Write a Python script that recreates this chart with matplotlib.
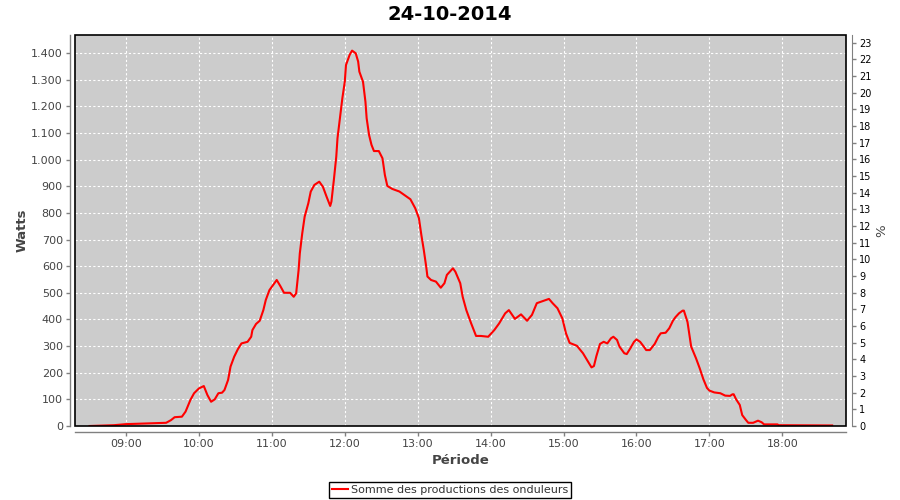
import matplotlib
matplotlib.use("Agg")
import matplotlib.pyplot as plt
from matplotlib.patches import Rectangle

# Production readings for 24-10-2014 (time of day, watts)
times = [
    "08:30", "08:50", "09:00", "09:20", "09:33", "09:37", "09:40", "09:46", "09:49", "09:53",
    "09:56", "10:00", "10:04", "10:07", "10:10", "10:13", "10:16", "10:19", "10:21", "10:24",
    "10:26", "10:29", "10:32", "10:35", "10:40", "10:43", "10:44", "10:47", "10:50", "10:53",
    "10:55", "10:58", "11:04", "11:07", "11:10", "11:15", "11:18", "11:20", "11:22", "11:23",
    "11:25", "11:27", "11:30", "11:32", "11:35", "11:39", "11:42", "11:45", "11:48", "11:49",
    "11:51", "11:53", "11:54", "11:56", "11:58", "12:00", "12:01", "12:04", "12:06", "12:09",
    "12:11", "12:12", "12:15", "12:17", "12:18", "12:20", "12:22", "12:24", "12:28", "12:31",
    "12:33", "12:35", "12:39", "12:45", "12:49", "12:54", "12:58", "13:01", "13:03", "13:05",
    "13:07", "13:08", "13:11", "13:15", "13:19", "13:22", "13:24", "13:29", "13:31", "13:35",
    "13:37", "13:40", "13:44", "13:48", "13:52", "13:58", "14:03", "14:07", "14:12", "14:15",
    "14:20", "14:25", "14:30", "14:34", "14:38", "14:43", "14:48", "14:51", "14:55", "14:59",
    "15:02", "15:05", "15:11", "15:16", "15:21", "15:23", "15:25", "15:27", "15:30", "15:33",
    "15:36", "15:39", "15:41", "15:44", "15:46", "15:50", "15:52", "15:55", "15:58", "16:00",
    "16:03", "16:06", "16:08", "16:11", "16:15", "16:18", "16:20", "16:24", "16:27", "16:30",
    "16:32", "16:35", "16:38", "16:39", "16:42", "16:43", "16:45", "16:49", "16:52", "16:55",
    "16:58", "17:00", "17:04", "17:09", "17:13", "17:17", "17:19", "17:20", "17:22", "17:25",
    "17:27", "17:30", "17:32", "17:36", "17:40", "17:43", "17:45", "17:56", "17:57", "18:41",
]
watts = [
    0, 3, 7, 10, 12, 22, 33, 35, 54, 98,
    123, 141, 150, 116, 91, 100, 123, 125, 135, 173,
    223, 260, 288, 310, 316, 335, 360, 383, 395, 435,
    473, 510, 548, 525, 500, 500, 485, 498, 585, 648,
    723, 786, 836, 880, 905, 917, 898, 861, 826, 842,
    923, 1011, 1080, 1155, 1230, 1292, 1355, 1393, 1409, 1399,
    1368, 1330, 1292, 1217, 1155, 1092, 1055, 1032, 1032, 1005,
    942, 901, 890, 880, 867, 851, 817, 780, 717, 661,
    598, 561, 548, 542, 519, 536, 567, 592, 579, 536,
    485, 435, 385, 338, 338, 335, 360, 385, 423, 435,
    402, 419, 395, 417, 461, 469, 477, 461, 442, 404,
    348, 312, 301, 273, 235, 220, 225, 262, 308, 316,
    310, 329, 335, 323, 298, 273, 270, 292, 316, 325,
    316, 298, 285, 285, 308, 335, 348, 350, 367, 395,
    408, 423, 433, 433, 390, 360, 298, 254, 217, 176,
    143, 133, 126, 123, 114, 113, 119, 119, 100, 79,
    41, 23, 12, 12, 20, 14, 6, 6, 3, 2,
]
hour_ticks = list(range(9, 19))
watt_ticks = list(range(0, 1401, 100))
pct_ticks = list(range(0, 24))

minutes = [int(t[:2]) * 60 + int(t[3:]) for t in times]

grey_txt = "#444444"
axis_col = "#808080"

fig = plt.figure(figsize=(9, 5), dpi=100)
ax = fig.add_axes([0.0837, 0.148, 0.8563, 0.782])
ax.set_facecolor("#cccccc")
ax.plot(minutes, watts, color="red", lw=1.5, label="Somme des productions des onduleurs")

ax.set_xlim(498.3, 1132.4)
ax.set_ylim(0, 1467.6)
ax.set_xticks([h * 60 for h in hour_ticks])
ax.set_xticklabels([f"{h:02d}:00" for h in hour_ticks])
ax.set_yticks(watt_ticks)
ax.set_yticklabels([f"{v:,}".replace(",", ".") for v in watt_ticks])

ax.set_axisbelow(True)
ax.grid(color="white", linestyle=(0, (2, 2)), linewidth=0.8)

for side in ["top", "right"]:
    ax.spines[side].set_visible(False)
ax.spines["left"].set_position(("outward", 4))
ax.spines["bottom"].set_position(("outward", 4.5))
for side in ["left", "bottom"]:
    ax.spines[side].set_color(axis_col)
    ax.spines[side].set_linewidth(1)
ax.tick_params(axis="both", colors=axis_col, labelcolor=grey_txt, labelsize=8,
               length=3, width=1, pad=2)

# black plot outline
ax.add_patch(Rectangle((0, 0), 1, 1, transform=ax.transAxes, fill=False,
                       edgecolor="black", lw=1.2, clip_on=False, zorder=5))

ax.set_xlabel("Période", fontsize=9.5, fontweight="bold", color=grey_txt)
ax.xaxis.set_label_coords(0.5, -0.087)
ax.xaxis.label.set_va("center")
ax.set_ylabel("Watts", fontsize=9.5, fontweight="bold", color=grey_txt)
ax.yaxis.set_label_coords(-0.069, 0.5)
ax.yaxis.label.set_va("center")

# right percentage axis
ax2 = ax.twinx()
ax2.set_ylim(0, 23.46)
ax2.set_yticks(pct_ticks)
for side in ["top", "left", "bottom"]:
    ax2.spines[side].set_visible(False)
ax2.spines["right"].set_position(("outward", 4.5))
ax2.spines["right"].set_color(axis_col)
ax2.tick_params(axis="y", colors=axis_col, labelcolor="black", labelsize=7,
                length=3, width=1, pad=2)
ax2.set_ylabel("%", fontsize=9.5, color=grey_txt)
ax2.yaxis.set_label_coords(1.047, 0.5)
ax2.yaxis.label.set_va("center")

fig.suptitle("24-10-2014", y=0.972, va="center", fontsize=14, fontweight="bold")

leg = fig.legend(loc="lower center", bbox_to_anchor=(0.5, 0.0035), fontsize=8,
                 frameon=True, fancybox=False, edgecolor="black", framealpha=1,
                 handlelength=1.45, handletextpad=0.25, borderpad=0.3, borderaxespad=0)
leg.get_frame().set_linewidth(1.0)
for txt in leg.get_texts():
    txt.set_color("#333333")

fig.savefig("out.png", dpi=100)
